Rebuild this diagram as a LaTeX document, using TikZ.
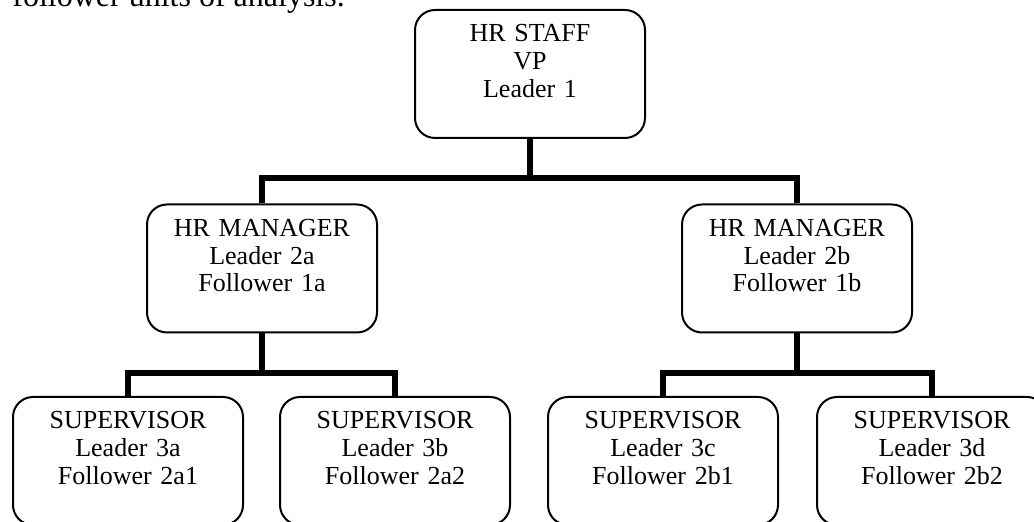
\documentclass[tikz,border=0pt]{standalone}
\usepackage{fontspec}
\setmainfont{Liberation Serif}

\begin{document}
\begin{tikzpicture}[x=0.5pt, y=-0.5pt,
  unit/.style={draw, line width=1pt, rounded corners=10pt, inner sep=0pt,
    text width=115pt, align=center, text height=16pt, text depth=48pt,
    font=\fontsize{13}{13.8}\selectfont},
  wire/.style={line width=2.6pt}]
  \useasboundingbox (0,0) rectangle (1034,522);
  \clip (0,0) rectangle (1034,522);
  \node[anchor=base west, inner sep=0pt, font=\fontsize{16}{19}\selectfont] (intro) at (12,7) {follower units of analysis.};
  \node[unit] (staff) at (530,74) {HR STAFF\\VP\\Leader 1};
  \node[unit] (mgra) at (262,268.5) {HR MANAGER\\Leader 2a\\Follower 1a};
  \node[unit] (mgrb) at (797,268.5) {HR MANAGER\\Leader 2b\\Follower 1b};
  \node[unit] (supa) at (128,461) {SUPERVISOR\\Leader 3a\\Follower 2a1};
  \node[unit] (supb) at (395,461) {SUPERVISOR\\Leader 3b\\Follower 2a2};
  \node[unit] (supc) at (663,461) {SUPERVISOR\\Leader 3c\\Follower 2b1};
  \node[unit] (supd) at (932,461) {SUPERVISOR\\Leader 3d\\Follower 2b2};
  \coordinate (bus1) at (0,178);
  \coordinate (bus2) at (0,373);
  \draw[wire] (staff.south) |- (bus1 -| mgra) -- (mgra.north);
  \draw[wire] (staff.south) |- (bus1 -| mgrb) -- (mgrb.north);
  \draw[wire] (mgra.south) |- (bus2 -| supa) -- (supa.north);
  \draw[wire] (mgra.south) |- (bus2 -| supb) -- (supb.north);
  \draw[wire] (mgrb.south) |- (bus2 -| supc) -- (supc.north);
  \draw[wire] (mgrb.south) |- (bus2 -| supd) -- (supd.north);
\end{tikzpicture}
\end{document}
